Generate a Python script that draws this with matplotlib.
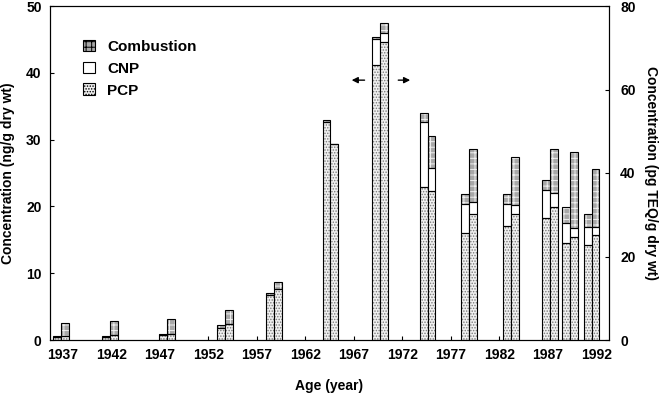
import numpy as np
import matplotlib as mpl
mpl.use('Agg')
import matplotlib.pyplot as plt
from matplotlib.patches import Patch

plt.rcParams['font.family'] = ['Liberation Sans', 'DejaVu Sans']
plt.rcParams['hatch.linewidth'] = 0.7

# sample ages (year) and tick labels
ages = [1936.8, 1941.9, 1947.8, 1953.7, 1958.8, 1964.6, 1969.7,
        1974.6, 1978.9, 1983.2, 1987.2, 1989.3, 1991.5]
year_ticks = [1937, 1942, 1947, 1952, 1957, 1962, 1967, 1972, 1977, 1982, 1987, 1992]

# left bars: ng/g dry wt
ng_pcp = [0.4, 0.4, 0.7, 1.8, 6.7, 32.6, 41.2, 22.9, 16.0, 17.1, 18.3, 14.5, 14.2]
ng_cnp = [0, 0, 0, 0, 0, 0, 3.9, 9.7, 4.4, 3.3, 4.2, 3.0, 2.7]
ng_comb = [0.2, 0.2, 0.2, 0.4, 0.3, 0.3, 0.2, 1.4, 1.5, 1.5, 1.5, 2.4, 2.0]

# right bars: pg TEQ/g dry wt
teq_pcp = [1.0, 1.2, 1.4, 3.8, 12.2, 47.0, 71.4, 35.7, 30.2, 30.2, 31.9, 24.7, 25.1]
teq_cnp = [0, 0, 0, 0, 0, 0, 2.2, 5.5, 2.9, 2.1, 3.3, 2.1, 2.0]
teq_comb = [3.1, 3.4, 3.6, 3.4, 1.7, 0, 2.4, 7.7, 12.6, 11.5, 10.5, 18.2, 13.9]

w = 0.82
styles = {
    'PCP': dict(color='#f0f0f0', hatch='......', hc='#7a7a7a'),
    'CNP': dict(color='white', hatch=None, hc='white'),
    'Combustion': dict(color='#a8a8a8', hatch='+++', hc='#f0f0f0'),
}

def stacked(ax, x, parts):
    bottom = np.zeros(len(x))
    for name, vals in parts:
        s = styles[name]
        vals = np.array(vals)
        ax.bar(x, vals, w, bottom=bottom, color=s['color'], hatch=s['hatch'],
               edgecolor=s['hc'], linewidth=0, zorder=2)
        ax.bar(x, vals, w, bottom=bottom, fill=False, edgecolor='black',
               linewidth=0.8, zorder=3)
        bottom += vals

fig = plt.figure(figsize=(6.59, 3.95), dpi=100)
ax = fig.add_axes([50/659, 1-340/395, 559/659, 334/395])
ax2 = ax.twinx()

x = np.array(ages)
stacked(ax, x - w/2, [('PCP', ng_pcp), ('CNP', ng_cnp), ('Combustion', ng_comb)])
stacked(ax2, x + w/2, [('PCP', teq_pcp), ('CNP', teq_cnp), ('Combustion', teq_comb)])

ax.set_xlim(1935.7, 1993.3)
ax.set_ylim(0, 50)
ax2.set_ylim(0, 80)
ax.set_xticks(year_ticks)
ax.set_yticks(range(0, 51, 10))
ax2.set_yticks(range(0, 81, 20))
for a in (ax, ax2):
    a.tick_params(direction='in', length=3, width=0.8, labelsize=10)
    for lab in a.get_xticklabels() + a.get_yticklabels():
        lab.set_fontweight('bold')
ax.tick_params(axis='x', pad=6)
ax.tick_params(axis='y', pad=6)
ax2.tick_params(axis='y', pad=8)

ax.set_xlabel('Age (year)', fontsize=10, fontweight='bold', labelpad=12)
ax.set_ylabel('Concentration (ng/g dry wt)', fontsize=10, fontweight='bold', labelpad=8)
ax2.set_ylabel('Concentration (pg TEQ/g dry wt)', fontsize=10, fontweight='bold',
               rotation=270, labelpad=16)

# arrows showing which axis each bar belongs to
ax.annotate('', xy=(1966.5, 38.9), xytext=(1968.4, 38.9),
            arrowprops=dict(arrowstyle='-|>', color='black', lw=1, mutation_scale=9))
ax.annotate('', xy=(1973.1, 38.9), xytext=(1971.3, 38.9),
            arrowprops=dict(arrowstyle='-|>', color='black', lw=1, mutation_scale=9))

handles = [Patch(facecolor=styles[n]['color'], hatch=styles[n]['hatch'],
                 edgecolor='black', linewidth=0.8, label=n)
           for n in ['Combustion', 'CNP', 'PCP']]
ax2.legend(handles=handles, loc='upper left', bbox_to_anchor=(0.034, 0.94),
           frameon=False, prop=dict(weight='bold', size=11),
           handlelength=0.8, handleheight=0.8, handletextpad=0.8, labelspacing=0.5)

fig.savefig('out.png', dpi=100)
